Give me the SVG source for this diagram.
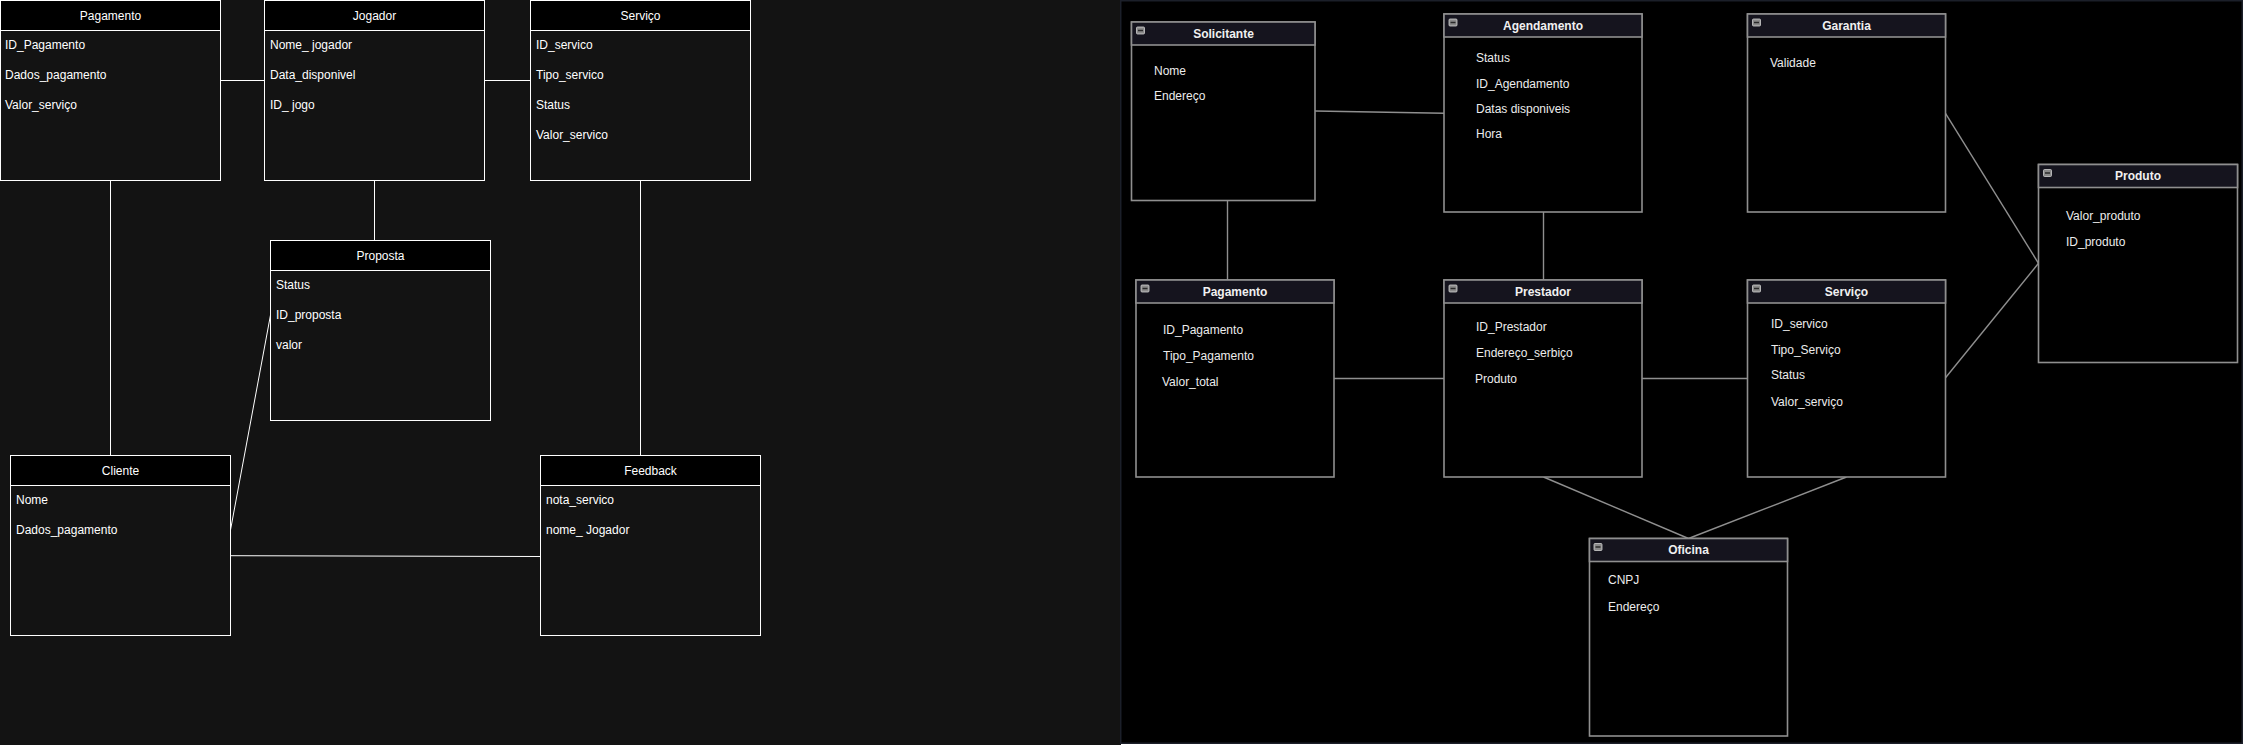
<svg xmlns="http://www.w3.org/2000/svg" width="2243" height="745" viewBox="0 0 2243 745">
<style>
.bgL{fill:#131313}
.bgR{fill:#000;stroke:#1b1f29;stroke-width:1.5}
.lb{fill:#131313;stroke:#fff;stroke-width:1}
.lh{fill:#000;stroke:#fff;stroke-width:1}
.lt{font-family:"Liberation Sans",Arial,sans-serif;font-size:12px;fill:#fff}
.lc{stroke:#fff;stroke-width:1;fill:none}
.rb{fill:#000;stroke:#8f8f8f;stroke-width:1.6}
.rh{fill:#15141e;stroke:#8f8f8f;stroke-width:1.6}
.rtt{font-family:"Liberation Sans",Arial,sans-serif;font-size:12px;font-weight:bold;fill:#f0f0f0;text-anchor:middle}
.rt{font-family:"Liberation Sans",Arial,sans-serif;font-size:12px;fill:#ececec}
.rc{stroke:#8f8f8f;stroke-width:1.4;fill:none}
.ic{fill:#8a8a8a;stroke:#cfcfcf;stroke-width:0.8}
.icb{stroke:#2a2a2a;stroke-width:1.5}
</style>
<rect class="bgL" x="0" y="0" width="1121" height="745"/>
<rect class="bgR" x="1120.75" y="0.75" width="1121.5" height="742.5"/>

<g id="connectors">
<line class="lc" x1="220.5" y1="80.5" x2="264.5" y2="80.5"/>
<line class="lc" x1="484.5" y1="80.5" x2="530.5" y2="80.5"/>
<line class="lc" x1="110.5" y1="180.5" x2="110.5" y2="455.5"/>
<line class="lc" x1="374.5" y1="180.5" x2="374.5" y2="240.5"/>
<line class="lc" x1="640.5" y1="180.5" x2="640.5" y2="455.5"/>
<line class="lc" x1="270.5" y1="315" x2="230.5" y2="530"/>
<line class="lc" x1="230.5" y1="555.7" x2="540.5" y2="556.5"/>
<line class="rc" x1="1315" y1="111" x2="1444" y2="113.3"/>
<line class="rc" x1="1227.5" y1="200.5" x2="1227.5" y2="280"/>
<line class="rc" x1="1543.5" y1="212" x2="1543.5" y2="280"/>
<line class="rc" x1="1334" y1="378.5" x2="1444" y2="378.5"/>
<line class="rc" x1="1642" y1="378.5" x2="1747.5" y2="378.5"/>
<line class="rc" x1="1945.5" y1="113.3" x2="2038.5" y2="263.3"/>
<line class="rc" x1="1945.5" y1="377.7" x2="2038.5" y2="263.3"/>
<line class="rc" x1="1543.5" y1="477" x2="1688.5" y2="538.5"/>
<line class="rc" x1="1846.5" y1="477" x2="1688.5" y2="538.5"/>
</g>

<g id="L-Pagamento">
<rect class="lb" x="0.5" y="0.5" width="220" height="180"/>
<rect class="lh" x="0.5" y="0.5" width="220" height="30"/>
<text class="lt" x="110.5" y="19.5" text-anchor="middle">Pagamento</text>
<text class="lt" x="5" y="48.5">ID_Pagamento</text>
<text class="lt" x="5" y="79">Dados_pagamento</text>
<text class="lt" x="5" y="109">Valor_serviço</text>
</g>
<g id="L-Jogador">
<rect class="lb" x="264.5" y="0.5" width="220" height="180"/>
<rect class="lh" x="264.5" y="0.5" width="220" height="30"/>
<text class="lt" x="374.5" y="19.5" text-anchor="middle">Jogador</text>
<text class="lt" x="270" y="48.5">Nome_ jogador</text>
<text class="lt" x="270" y="79">Data_disponivel</text>
<text class="lt" x="270" y="109">ID_ jogo</text>
</g>
<g id="L-Servico">
<rect class="lb" x="530.5" y="0.5" width="220" height="180"/>
<rect class="lh" x="530.5" y="0.5" width="220" height="30"/>
<text class="lt" x="640.5" y="19.5" text-anchor="middle">Serviço</text>
<text class="lt" x="536" y="48.5">ID_servico</text>
<text class="lt" x="536" y="79">Tipo_servico</text>
<text class="lt" x="536" y="109">Status</text>
<text class="lt" x="536" y="139">Valor_servico</text>
</g>
<g id="L-Proposta">
<rect class="lb" x="270.5" y="240.5" width="220" height="180"/>
<rect class="lh" x="270.5" y="240.5" width="220" height="30"/>
<text class="lt" x="380.5" y="259.5" text-anchor="middle">Proposta</text>
<text class="lt" x="276" y="288.5">Status</text>
<text class="lt" x="276" y="319">ID_proposta</text>
<text class="lt" x="276" y="349">valor</text>
</g>
<g id="L-Cliente">
<rect class="lb" x="10.5" y="455.5" width="220" height="180"/>
<rect class="lh" x="10.5" y="455.5" width="220" height="30"/>
<text class="lt" x="120.5" y="474.5" text-anchor="middle">Cliente</text>
<text class="lt" x="16" y="504">Nome</text>
<text class="lt" x="16" y="534">Dados_pagamento</text>
</g>
<g id="L-Feedback">
<rect class="lb" x="540.5" y="455.5" width="220" height="180"/>
<rect class="lh" x="540.5" y="455.5" width="220" height="30"/>
<text class="lt" x="650.5" y="474.5" text-anchor="middle">Feedback</text>
<text class="lt" x="546" y="504">nota_servico</text>
<text class="lt" x="546" y="534">nome_ Jogador</text>
</g>

<g id="R-Solicitante">
<rect class="rb" x="1131.5" y="22" width="183.5" height="178.5"/>
<rect class="rh" x="1131.5" y="22" width="183.5" height="23"/>
<rect class="ic" x="1136.5" y="27" width="8" height="7" rx="1"/><line class="icb" x1="1138" y1="30.5" x2="1143" y2="30.5"/>
<text class="rtt" x="1223.5" y="37.5">Solicitante</text>
<text class="rt" x="1154" y="75">Nome</text>
<text class="rt" x="1154" y="100">Endereço</text>
</g>
<g id="R-Agendamento">
<rect class="rb" x="1444" y="14" width="198" height="198"/>
<rect class="rh" x="1444" y="14" width="198" height="23"/>
<rect class="ic" x="1449" y="19" width="8" height="7" rx="1"/><line class="icb" x1="1450.5" y1="22.5" x2="1455.5" y2="22.5"/>
<text class="rtt" x="1543" y="29.5">Agendamento</text>
<text class="rt" x="1476" y="61.5">Status</text>
<text class="rt" x="1476" y="87.5">ID_Agendamento</text>
<text class="rt" x="1476" y="112.5">Datas disponiveis</text>
<text class="rt" x="1476" y="138">Hora</text>
</g>
<g id="R-Garantia">
<rect class="rb" x="1747.5" y="14" width="198" height="198"/>
<rect class="rh" x="1747.5" y="14" width="198" height="23"/>
<rect class="ic" x="1752.5" y="19" width="8" height="7" rx="1"/><line class="icb" x1="1754" y1="22.5" x2="1759" y2="22.5"/>
<text class="rtt" x="1846.5" y="29.5">Garantia</text>
<text class="rt" x="1770" y="66.5">Validade</text>
</g>
<g id="R-Produto">
<rect class="rb" x="2038.5" y="164.5" width="199" height="198"/>
<rect class="rh" x="2038.5" y="164.5" width="199" height="23"/>
<rect class="ic" x="2043.5" y="169.5" width="8" height="7" rx="1"/><line class="icb" x1="2045" y1="173" x2="2050" y2="173"/>
<text class="rtt" x="2138" y="180">Produto</text>
<text class="rt" x="2066" y="220">Valor_produto</text>
<text class="rt" x="2066" y="245.5">ID_produto</text>
</g>
<g id="R-Pagamento">
<rect class="rb" x="1136" y="280" width="198" height="197"/>
<rect class="rh" x="1136" y="280" width="198" height="23"/>
<rect class="ic" x="1141" y="285" width="8" height="7" rx="1"/><line class="icb" x1="1142.5" y1="288.5" x2="1147.5" y2="288.5"/>
<text class="rtt" x="1235" y="295.5">Pagamento</text>
<text class="rt" x="1163" y="334">ID_Pagamento</text>
<text class="rt" x="1163" y="360">Tipo_Pagamento</text>
<text class="rt" x="1162" y="385.5">Valor_total</text>
</g>
<g id="R-Prestador">
<rect class="rb" x="1444" y="280" width="198" height="197"/>
<rect class="rh" x="1444" y="280" width="198" height="23"/>
<rect class="ic" x="1449" y="285" width="8" height="7" rx="1"/><line class="icb" x1="1450.5" y1="288.5" x2="1455.5" y2="288.5"/>
<text class="rtt" x="1543" y="295.5">Prestador</text>
<text class="rt" x="1476" y="331">ID_Prestador</text>
<text class="rt" x="1476" y="356.5">Endereço_serbiço</text>
<text class="rt" x="1475" y="382.5">Produto</text>
</g>
<g id="R-Servico">
<rect class="rb" x="1747.5" y="280" width="198" height="197"/>
<rect class="rh" x="1747.5" y="280" width="198" height="23"/>
<rect class="ic" x="1752.5" y="285" width="8" height="7" rx="1"/><line class="icb" x1="1754" y1="288.5" x2="1759" y2="288.5"/>
<text class="rtt" x="1846.5" y="295.5">Serviço</text>
<text class="rt" x="1771" y="327.5">ID_servico</text>
<text class="rt" x="1771" y="353.5">Tipo_Serviço</text>
<text class="rt" x="1771" y="379">Status</text>
<text class="rt" x="1771" y="405.5">Valor_serviço</text>
</g>
<g id="R-Oficina">
<rect class="rb" x="1589.5" y="538.5" width="198" height="197.5"/>
<rect class="rh" x="1589.5" y="538.5" width="198" height="23"/>
<rect class="ic" x="1594" y="543.5" width="8" height="7" rx="1"/><line class="icb" x1="1595.5" y1="547" x2="1600.5" y2="547"/>
<text class="rtt" x="1688.5" y="554">Oficina</text>
<text class="rt" x="1608" y="584">CNPJ</text>
<text class="rt" x="1608" y="611">Endereço</text>
</g>
</svg>
